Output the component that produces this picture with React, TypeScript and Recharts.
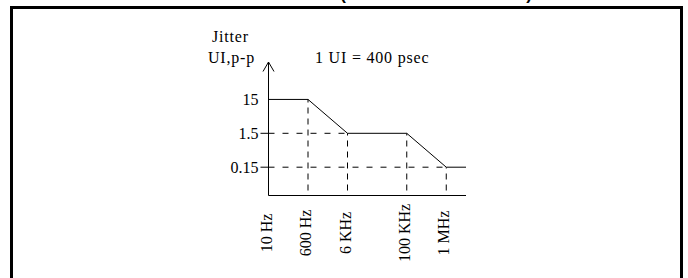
import { LineChart, Line, XAxis, YAxis } from "recharts";

// schematic frequency axis: blank slots only space the breakpoints out (not to scale)
const freqLabels = ["10 Hz", "", "600 Hz", "", "6 KHz", "", "", "100 KHz", "", "1 MHz", ""];
const jitterUI: (number | null)[] = [15, null, 15, null, 1.5, null, null, 1.5, null, 0.15, 0.15];
const jitterTicks = [0.15, 1.5, 15];

const data = freqLabels.map((freq, i) => ({ freq, jitter: jitterUI[i] }));

const W = 688;
const H = 278;
const PLOT_LEFT = 268.5;
const PLOT_TOP = 62;
const PLOT_RIGHT = 466;
const PLOT_BOTTOM = 195.5;
const Y_AXIS_W = 60;
const X_AXIS_H = 30;
const SERIF = '"Liberation Serif", "Times New Roman", serif';
const INK = "#000";

function prevLevel(index: number) {
  for (let i = index - 1; i >= 0; i--) {
    if (freqLabels[i] && jitterUI[i] != null) return jitterUI[i];
  }
  return null;
}

// dashed drop lines from each breakpoint down to the frequency axis,
// and across to the jitter axis where a new level is reached
function BreakpointGuides(props: any) {
  const { cx, cy, index } = props;
  const key = `g${index}`;
  if (index === 0 || !freqLabels[index] || jitterUI[index] == null) return <g key={key} />;
  const newLevel = prevLevel(index) !== jitterUI[index];
  return (
    <g key={key}>
      <line x1={cx} x2={cx} y1={PLOT_BOTTOM + 6} y2={cy} stroke={INK} strokeDasharray="6 5" />
      {newLevel && (
        <line x1={PLOT_LEFT} x2={cx} y1={cy} y2={cy} stroke={INK} strokeDasharray="6 8" />
      )}
    </g>
  );
}

function FreqTick({ x, payload }: any) {
  const label = payload.value as string;
  if (!label) return <g />;
  return (
    <text
      transform={`translate(${x + 3},233) rotate(-90)`}
      textAnchor="middle"
      fontFamily={SERIF}
      fontSize={16}
      fill={INK}
    >
      {label}
    </text>
  );
}

function JitterTick({ y, payload }: any) {
  const v = payload.value as number;
  return (
    <g>
      {v < 15 && <line x1={PLOT_LEFT - 8} x2={PLOT_LEFT} y1={y} y2={y} stroke={INK} />}
      <text x={PLOT_LEFT - 10} y={y} dy="0.34em" textAnchor="end" fontFamily={SERIF} fontSize={16} fill={INK}>
        {String(v)}
      </text>
    </g>
  );
}

function AxisNotes() {
  return (
    <g fontFamily={SERIF} fontSize={16} fill={INK} letterSpacing={0.8}>
      <path
        d={`M${PLOT_LEFT - 5.5},${PLOT_TOP + 9.5} L${PLOT_LEFT},${PLOT_TOP} L${PLOT_LEFT + 5.5},${PLOT_TOP + 9.5}`}
        fill="none"
        stroke={INK}
      />
      <text x={212} y={42}>Jitter</text>
      <text x={208} y={63}>UI,p-p</text>
      <text x={315} y={63}>1 UI = 400 psec</text>
    </g>
  );
}

export default function App() {
  return (
    <div style={{ position: "absolute", left: 0, top: 0, width: W, height: H, overflow: "hidden", background: "#fff" }}>
      <div
        style={{
          position: "absolute",
          left: 10,
          top: 6,
          width: 673,
          height: 320,
          border: "3px solid #000",
          boxSizing: "border-box",
        }}
      />
      <svg width={W} height={20} style={{ position: "absolute", left: 0, top: 0 }}>
        <text
          x={532}
          y={-0.5}
          textAnchor="end"
          fontFamily='"Liberation Sans", Arial, sans-serif'
          fontWeight="bold"
          fontSize={17}
          fill={INK}
        >
          Jitter Tolerance Mask (OC-48 / STM-16 INPUT)
        </text>
      </svg>
      <div style={{ position: "absolute", left: 0, top: 0 }}>
        <LineChart
          width={W}
          height={H}
          data={data}
          margin={{
            top: PLOT_TOP,
            left: PLOT_LEFT - Y_AXIS_W,
            right: W - PLOT_RIGHT,
            bottom: H - PLOT_BOTTOM - X_AXIS_H,
          }}
        >
          <XAxis
            dataKey="freq"
            type="category"
            interval={0}
            height={X_AXIS_H}
            tickLine={false}
            tickSize={0}
            tickMargin={0}
            axisLine={{ stroke: INK }}
            tick={<FreqTick />}
          />
          <YAxis
            type="number"
            scale="log"
            domain={[0.0219, 191]}
            allowDataOverflow
            ticks={jitterTicks}
            width={Y_AXIS_W}
            tickLine={false}
            tickSize={0}
            tickMargin={0}
            axisLine={{ stroke: INK }}
            tick={<JitterTick />}
            label={() => <AxisNotes />}
          />
          <Line
            dataKey="jitter"
            type="linear"
            stroke={INK}
            strokeWidth={1}
            connectNulls
            dot={BreakpointGuides}
            activeDot={false}
            isAnimationActive={false}
          />
        </LineChart>
      </div>
    </div>
  );
}
